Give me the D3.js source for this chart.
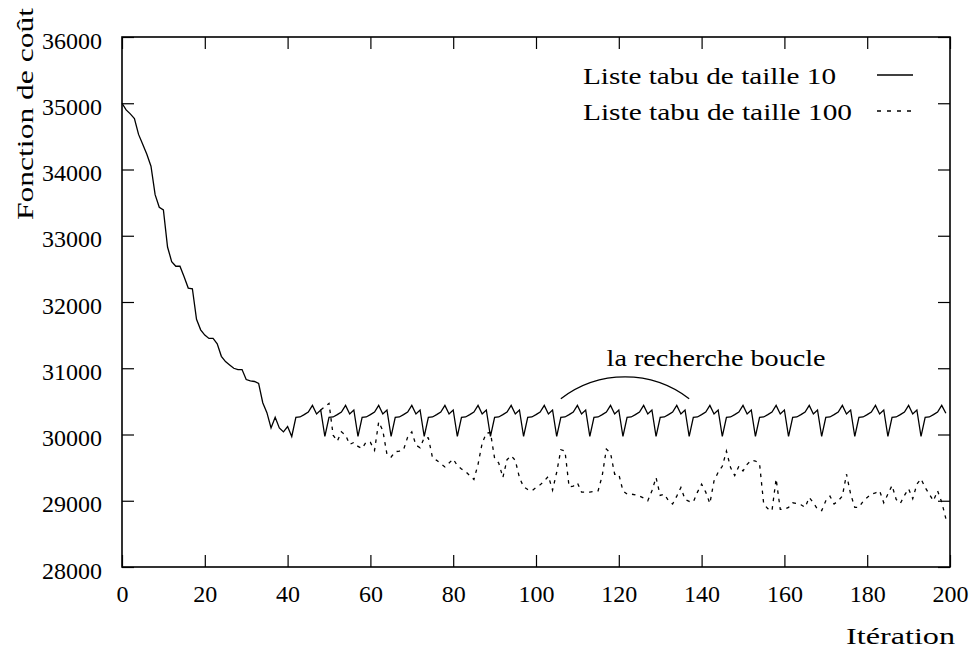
<!DOCTYPE html>
<html>
<head>
<meta charset="utf-8">
<script src="https://cdn.jsdelivr.net/npm/d3@7"></script>
<style>
  html, body { margin: 0; padding: 0; background: #fff; }
  svg { display: block; }
  svg text { font-family: "Liberation Serif", "DejaVu Serif", serif !important; fill: #000; }
</style>
</head>
<body>
<svg id="chart" width="970" height="652"></svg>
<script>
// ---------------- DATA ----------------
const xTicks = [0, 20, 40, 60, 80, 100, 120, 140, 160, 180, 200];
const yTicks = [28000, 29000, 30000, 31000, 32000, 33000, 34000, 35000, 36000];
const xLabel = "Itération";
const yLabel = "Fonction de coût";
const seriesNames = ["Liste tabu de taille 10", "Liste tabu de taille 100"];
const annotationText = "la recherche boucle";
// annotation arc: start/end iteration, base cost, top cost
const annotationArc = [106, 137, 30540, 30870];
const annotationPos = [143.5, 31030];

// Tabu list size 10 : cost for iterations 0..199
const tabu10 = [
  35000, 34900, 34840, 34770, 34530, 34380, 34230, 34050, 33620, 33430,
  33390, 32830, 32610, 32540, 32540, 32380, 32210, 32200, 31740, 31580,
  31500, 31450, 31450, 31370, 31180, 31100, 31050, 31000, 30980, 30980,
  30830, 30810, 30800, 30770, 30480, 30330, 30100, 30260, 30100, 30040,
  30120, 29970,
  30260, 30265, 30300, 30340, 30440, 30310, 30370, 29970,
  30260, 30265, 30300, 30340, 30440, 30310, 30370, 29970,
  30260, 30265, 30300, 30340, 30440, 30310, 30370, 29970,
  30260, 30265, 30300, 30340, 30440, 30310, 30370, 29970,
  30260, 30265, 30300, 30340, 30440, 30310, 30370, 29970,
  30260, 30265, 30300, 30340, 30440, 30310, 30370, 29970,
  30260, 30265, 30300, 30340, 30440, 30310, 30370, 29970,
  30260, 30265, 30300, 30340, 30440, 30310, 30370, 29970,
  30260, 30265, 30300, 30340, 30440, 30310, 30370, 29970,
  30260, 30265, 30300, 30340, 30440, 30310, 30370, 29970,
  30260, 30265, 30300, 30340, 30440, 30310, 30370, 29970,
  30260, 30265, 30300, 30340, 30440, 30310, 30370, 29970,
  30260, 30265, 30300, 30340, 30440, 30310, 30370, 29970,
  30260, 30265, 30300, 30340, 30440, 30310, 30370, 29970,
  30260, 30265, 30300, 30340, 30440, 30310, 30370, 29970,
  30260, 30265, 30300, 30340, 30440, 30310, 30370, 29970,
  30260, 30265, 30300, 30340, 30440, 30310, 30370, 29970,
  30260, 30265, 30300, 30340, 30440, 30310, 30370, 29970,
  30260, 30265, 30300, 30340, 30440, 30310, 30370, 29970,
  30260, 30265, 30300, 30340, 30440, 30320
];

// Tabu list size 100 : identical to size 10 before iteration 48, then diverges
const tabu100Start = 48;
const tabu100 = [
  30370, 30420,
  30470, 29990, 29900, 30040, 29990, 29850, 29880, 29820, 29790, 29890,
  29880, 29760, 30190, 30060, 29700, 29660, 29740, 29750, 29770, 29960,
  30040, 29840, 29800, 29950, 29950, 29650, 29610, 29560, 29510, 29570,
  29630, 29530, 29480, 29440, 29380, 29320, 29550, 29870, 30020, 30030,
  29640, 29570, 29350, 29620, 29680, 29610, 29350, 29210, 29170, 29150,
  29200, 29240, 29300, 29370, 29160, 29430, 29770, 29750, 29210, 29220,
  29270, 29130, 29130, 29130, 29140, 29150, 29380, 29780, 29720, 29400,
  29400, 29150, 29100, 29100, 29090, 29070, 29040, 29000, 29150, 29350,
  29080, 29100, 29000, 28950, 29070, 29200, 29020, 28990, 28980, 29130,
  29250, 29130, 28960, 29300, 29430, 29520, 29750, 29500, 29380, 29520,
  29450, 29550, 29610, 29600, 29560, 28950, 28880, 28850, 29330, 28870,
  28870, 28900, 28970, 28960, 28940, 28900, 29050, 28970, 28870, 28850,
  29000, 29070, 28950, 29000, 29070, 29400, 29100, 28900, 28900, 28990,
  29050, 29100, 29120, 29150, 28970, 29100, 29230, 29020, 28960, 29080,
  29180, 29030, 29250, 29330, 29200, 29100, 29000, 29150, 28980, 28730
];

// ---------------- CHART ----------------
const svg = d3.select("#chart");
const L = 122, R = 950, T = 37, B = 567;
const FONT = "'Liberation Serif', 'DejaVu Serif', serif";

const x = d3.scaleLinear().domain([0, 200]).range([L, R]);
const y = d3.scaleLinear().domain([28000, 36000]).range([B, T]);

const fontSize = 24;

// frame
svg.append("rect")
  .attr("x", L).attr("y", T).attr("width", R - L).attr("height", B - T)
  .attr("fill", "none").attr("stroke", "#000").attr("stroke-width", 1.6);

function styleAxis(g, showLabels) {
  g.attr("font-family", FONT).attr("font-size", fontSize);
  g.select(".domain").remove();
  g.selectAll(".tick line").attr("stroke", "#000").attr("stroke-width", 1.2);
  if (!showLabels) g.selectAll(".tick text").remove();
  else g.selectAll(".tick text").attr("fill", "#000");
}

// bottom axis
svg.append("g").attr("transform", `translate(0,${B})`)
  .call(d3.axisBottom(x).tickValues(xTicks).tickFormat(d3.format("d"))
        .tickSizeInner(-12).tickSizeOuter(0).tickPadding(18))
  .call(g => styleAxis(g, true));
// top axis
svg.append("g").attr("transform", `translate(0,${T})`)
  .call(d3.axisTop(x).tickValues(xTicks).tickSizeInner(-12).tickSizeOuter(0))
  .call(g => styleAxis(g, false));
// left axis
svg.append("g").attr("transform", `translate(${L},0)`)
  .call(d3.axisLeft(y).tickValues(yTicks).tickFormat(d3.format("d"))
        .tickSizeInner(-12).tickSizeOuter(0).tickPadding(20))
  .call(g => { styleAxis(g, true); g.selectAll(".tick text").attr("dy", "0.46em"); });
// right axis
svg.append("g").attr("transform", `translate(${R},0)`)
  .call(d3.axisRight(y).tickValues(yTicks).tickSizeInner(-12).tickSizeOuter(0))
  .call(g => styleAxis(g, false));

// axis titles
svg.append("text")
  .attr("x", 955).attr("y", 644)
  .attr("text-anchor", "end")
  .attr("font-family", FONT).attr("font-size", fontSize)
  .attr("textLength", 109).attr("lengthAdjust", "spacingAndGlyphs")
  .text(xLabel);

svg.append("text")
  .attr("transform", "translate(33,114) rotate(-90)")
  .attr("text-anchor", "middle")
  .attr("font-family", FONT).attr("font-size", fontSize)
  .attr("textLength", 212).attr("lengthAdjust", "spacingAndGlyphs")
  .text(yLabel);

// lines
const line = d3.line().x(d => x(d[0])).y(d => y(d[1]));

const s10 = tabu10.map((v, i) => [i, v]);
const s100 = tabu100.map((v, i) => [tabu100Start + i, v]);

svg.append("path")
  .attr("d", line(s100))
  .attr("fill", "none").attr("stroke", "#000").attr("stroke-width", 1.3)
  .attr("stroke-dasharray", "3.5,5");

svg.append("path")
  .attr("d", line(s10))
  .attr("fill", "none").attr("stroke", "#000").attr("stroke-width", 1.3)
  .attr("stroke-linejoin", "miter");

// legend
const legend = svg.append("g");
const legendRows = [
  { name: seriesNames[0], y: 84, len: 253, dash: null },
  { name: seriesNames[1], y: 120, len: 269, dash: "4,6" }
];
legendRows.forEach(r => {
  legend.append("text")
    .attr("x", 583).attr("y", r.y)
    .attr("font-family", FONT).attr("font-size", fontSize)
    .attr("textLength", r.len).attr("lengthAdjust", "spacingAndGlyphs")
    .text(r.name);
  legend.append("line")
    .attr("x1", 877).attr("x2", 913)
    .attr("y1", r.y - 9).attr("y2", r.y - 9)
    .attr("stroke", "#000").attr("stroke-width", 1.3)
    .attr("stroke-dasharray", r.dash);
});

// annotation
const ax0 = x(annotationArc[0]), ax1 = x(annotationArc[1]);
const ay = y(annotationArc[2]), atop = y(annotationArc[3]);
const half = (ax1 - ax0) / 2, sag = ay - atop;
const rad = (half * half + sag * sag) / (2 * sag);
svg.append("path")
  .attr("d", `M${ax0},${ay} A${rad},${rad} 0 0 1 ${ax1},${ay}`)
  .attr("fill", "none").attr("stroke", "#000").attr("stroke-width", 1.3);

svg.append("text")
  .attr("x", x(annotationPos[0])).attr("y", y(annotationPos[1]))
  .attr("text-anchor", "middle")
  .attr("font-family", FONT).attr("font-size", fontSize)
  .attr("textLength", 219).attr("lengthAdjust", "spacingAndGlyphs")
  .text(annotationText);
</script>
</body>
</html>
